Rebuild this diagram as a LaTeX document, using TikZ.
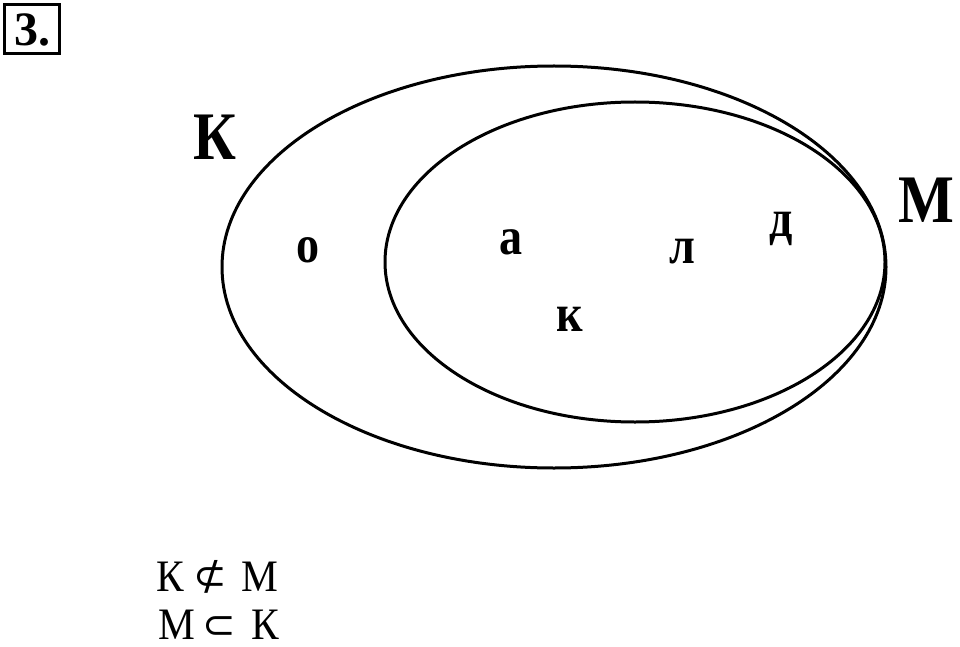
\documentclass[tikz,border=0pt]{standalone}
\usepackage{fontspec}
\setmainfont{Liberation Serif}
\newfontfamily\symbfont{DejaVu Sans}
\begin{document}
\begin{tikzpicture}[x=1pt,y=-1pt,
  setline/.style={line width=3pt},
  biglab/.style={anchor=base,inner sep=0pt,font=\fontsize{68}{70}\selectfont\bfseries,xscale=0.87},
  elem/.style={anchor=base,inner sep=0pt,font=\fontsize{53}{55}\selectfont\bfseries,xscale=0.87},
  rel/.style={anchor=base,inner sep=0pt,font=\fontsize{45}{47}\selectfont,xscale=0.92},
  relsym/.style={inner sep=0pt,font=\symbfont\fontsize{40}{42}\selectfont}]
\useasboundingbox (0,0) rectangle (960,647);
% number box
\node[draw,line width=3pt,minimum width=55pt,minimum height=49.5pt,inner sep=0pt] (numbox) at (31.7,28.9) {};
\node[anchor=base,inner sep=0pt,font=\fontsize{48}{50}\selectfont\bfseries] (num) at (32,45.5) {3.};
% sets
\draw[setline] (554,267) ellipse [x radius=332, y radius=201];
\draw[setline] (635,262) ellipse [x radius=250, y radius=160];
\node[biglab] (K) at (215,160) {К};
\node[biglab] (M) at (926,222) {М};
% elements
\node[elem] (o) at (308,262.5) {о};
\node[elem] (a) at (511,254) {а};
\node[elem] (l) at (682,263) {л};
\node[elem] (d) at (781,236) {д};
\node[elem] (k) at (570,331) {к};
% relations
\node[rel] (r1a) at (170,591) {К};
\node[relsym] (r1s) at (210,577) {⊄};
\node[rel] (r1b) at (260,591) {М};
\node[rel] (r2a) at (177,639) {М};
\node[relsym] (r2s) at (219,628) {⊂};
\node[rel] (r2b) at (265,639) {К};
\end{tikzpicture}
\end{document}
